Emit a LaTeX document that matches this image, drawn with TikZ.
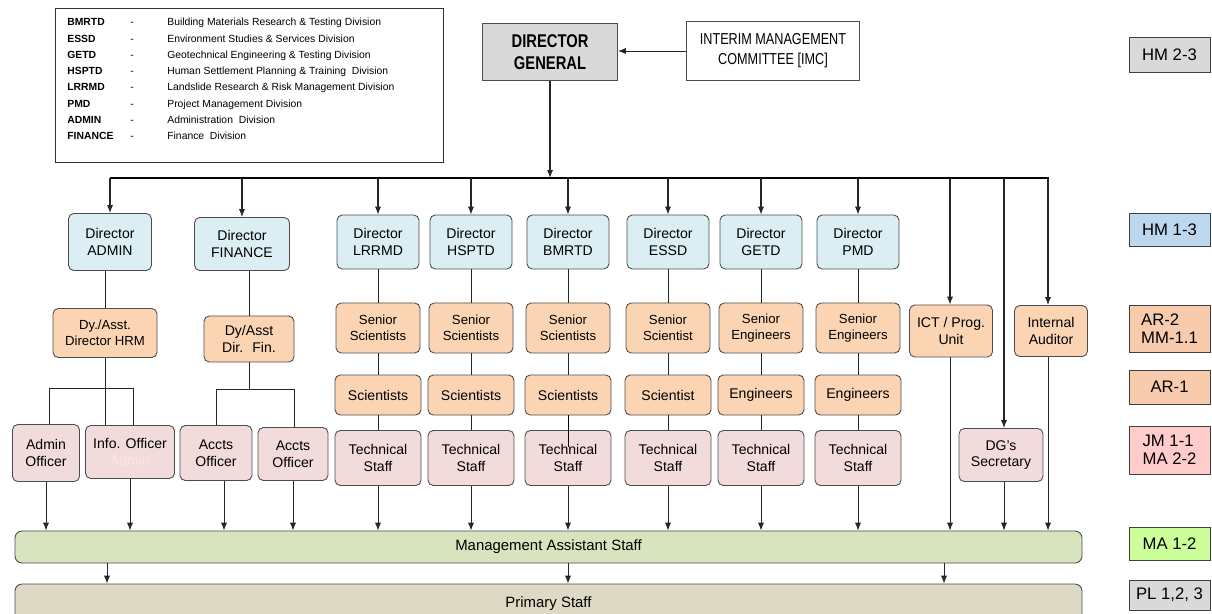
\documentclass[tikz,border=0pt]{standalone}
\usepackage{fontspec}
\setmainfont{Liberation Sans}
\newfontfamily\narrowsf[FakeStretch=0.8]{Liberation Sans}
\usetikzlibrary{arrows.meta}
\definecolor{dirblue}{HTML}{DAEEF3}
\definecolor{peach}{HTML}{FBD4B4}
\definecolor{rosy}{HTML}{F2DCDB}
\definecolor{faintpink}{HTML}{FCE4E4}
\definecolor{magreen}{HTML}{D7E4BD}
\definecolor{primtan}{HTML}{DDD9C4}
\definecolor{dggray}{HTML}{D9D9D9}
\definecolor{hmblue}{HTML}{BDD7EE}
\definecolor{arorange}{HTML}{F8CBAD}
\definecolor{jmpink}{HTML}{FFCCCC}
\definecolor{magrade}{HTML}{CCFF99}
\begin{document}
\begin{tikzpicture}[x=0.02cm,y=-0.02cm,
  wh/.style 2 args={minimum width=#1*0.02cm,minimum height=#2*0.02cm},
  box/.style={draw=black!70,line width=0.5pt,rounded corners=3pt,align=center,inner sep=1pt,font=\fontsize{8}{9.6}\selectfont},
  dirbox/.style={box,fill=dirblue},
  midbox/.style={box,fill=peach},
  lowbox/.style={box,fill=rosy},
  grade/.style={draw=black!75,line width=0.5pt,align=left,inner sep=1pt,minimum width=1.62cm,minimum height=#1*0.02cm,font=\fontsize{9.5}{10.5}\selectfont},
  legtext/.style={anchor=base west,inner sep=0pt,font=\fontsize{5.9}{7}\selectfont},
  link/.style={line width=0.5pt,draw=black!85},
  arr/.style={link,-{Latex[length=4.5pt,width=3.5pt]}}
]
\useasboundingbox (0,0) rectangle (1212,614);
% Legend of the division names
\draw[line width=0.5pt,draw=black!80] (55,8) rectangle (443,162);
\foreach \a/\t [count=\i] in {BMRTD/Building Materials Research \& Testing Division,
  ESSD/Environment Studies \& Services Division,
  GETD/Geotechnical Engineering \& Testing Division,
  HSPTD/Human Settlement Planning \& Training\ \ Division,
  LRRMD/Landslide Research \& Risk Management Division,
  PMD/Project Management Division,
  ADMIN/Administration\ \ Division,
  FINANCE/Finance\ \ Division}
{
  \node[legtext,font=\fontsize{5.9}{7}\selectfont\bfseries] (abbr\i) at (67,9.5+16.3*\i) {\a};
  \node[legtext] (dash\i) at (130,9.5+16.3*\i) {-};
  \node[legtext] (desc\i) at (167,9.5+16.3*\i) {\t};
}
% Top of the chart
\node[box,rounded corners=0pt,fill=dggray,wh={135}{57},font=\narrowsf\bfseries\fontsize{10.5}{12.5}\selectfont] (dg) at (550,52) {DIRECTOR\\GENERAL};
\node[box,rounded corners=0pt,fill=white,wh={173}{59},font=\narrowsf\fontsize{9}{11.3}\selectfont] (imc) at (773,51) {INTERIM MANAGEMENT\\COMMITTEE [IMC]};
\draw[arr] (imc.west) -- (imc.west -| dg.east);
\coordinate (busL) at (110,178);
\coordinate (busR) at (1049,178);
\draw[arr,line width=0.7pt] (dg.south) -- (dg.south |- busL);
\draw[link,line width=0.8pt,draw=black] (busL) -- (busR);
% Staff bars at the bottom
\node[box,rounded corners=4pt,fill=magreen,wh={1067}{32},font=\fontsize{8.5}{10}\selectfont] (ma) at (548.5,547) {Management Assistant Staff};
\node[box,rounded corners=4pt,fill=primtan,wh={1067}{40},font=\fontsize{8.5}{10}\selectfont] (ps) at (548.5,604) {Primary Staff};
\foreach \x in {107,568,944}
{
  \coordinate (m\x) at (\x,0);
  \draw[arr] (ma.south -| m\x) -- (ps.north -| m\x);
}
% Admin and finance branches
\node[dirbox,wh={83}{57}] (dadmin) at (110,242) {Director\\ADMIN};
\node[dirbox,wh={95}{53}] (dfin) at (242,244) {Director\\FINANCE};
\node[midbox,wh={104}{49},font=\fontsize{7.5}{9}\selectfont] (hrm) at (105,333) {Dy./Asst.\\Director HRM};
\node[midbox,wh={90}{46}] (dyfin) at (249,339) {Dy/Asst\\Dir.~ Fin.};
\node[lowbox,wh={67}{57}] (admo) at (46,453) {Admin\\Officer};
\node[lowbox,wh={89}{53}] (info) at (130,452) {Info. Officer\\\textcolor{faintpink}{Admin}};
\node[lowbox,wh={72}{55}] (acc1) at (216,453) {Accts\\Officer};
\node[lowbox,wh={70}{53}] (acc2) at (293,454) {Accts\\Officer};
\foreach \x/\n in {110/dadmin,242/dfin}
{
  \coordinate (b\n) at (\x,178);
  \draw[arr,line width=0.6pt] (b\n) -- (b\n |- \n.north);
}
\draw[link] (hrm.north) -- (hrm.north |- dadmin.south);
\draw[link] (dyfin.north) -- (dyfin.north |- dfin.south);
\coordinate (hl) at (49,388);
\coordinate (hr) at (133,388);
\draw[link] (hrm.south) -- (hrm.south |- info.north);
\draw[link] (admo.north -| hl) -- (hl) -- (hr) -- (hr |- info.north);
\coordinate (fl) at (216,389);
\coordinate (fr) at (294,389);
\draw[link] (dyfin.south) -- (dyfin.south |- fl);
\draw[link] (acc1.north -| fl) -- (fl) -- (fr) -- (fr |- acc2.north);
\coordinate (a1x) at (224,0);
\draw[arr] (admo) -- (admo |- ma.north);
\draw[arr] (info) -- (info |- ma.north);
\draw[arr] (acc1.south -| a1x) -- (ma.north -| a1x);
\draw[arr] (acc2) -- (acc2 |- ma.north);
% Research divisions, one column each
\foreach \n/\x/\d/\s/\j in {lrrmd/378/LRRMD/Scientists/Scientists,
  hsptd/471/HSPTD/Scientists/Scientists,
  bmrtd/568/BMRTD/Scientists/Scientists,
  essd/668/ESSD/Scientist/Scientist,
  getd/761/GETD/Engineers/Engineers,
  pmd/858/PMD/Engineers/Engineers}
{
  \node[dirbox,wh={82}{54}] (d\n) at (\x,242) {Director\\\d};
  \node[midbox,wh={84}{50},font=\fontsize{7.5}{9}\selectfont] (s\n) at (\x,328) {Senior\\\s};
  \node[midbox,wh={86}{40}] (j\n) at (\x,395) {\j};
  \node[lowbox,wh={86}{55}] (t\n) at (\x,458) {Technical\\Staff};
  \coordinate (b\n) at (\x,178);
  \draw[arr,line width=0.6pt] (b\n) -- (d\n);
  \draw[link] (d\n) -- (s\n) (s\n) -- (j\n) (j\n) -- (t\n);
  \draw[arr] (t\n) -- (t\n |- ma.north);
}
\draw[link,draw=black] (jbmrtd.south) -- ([yshift=-0.33cm]tbmrtd.north);
% Units reporting straight to the DG
\node[midbox,wh={83}{52}] (ict) at (951,331) {ICT / Prog.\\Unit};
\node[midbox,wh={73}{51}] (audit) at (1051,331) {Internal\\Auditor};
\node[lowbox,wh={84}{53}] (dgsec) at (1001,455) {DG's\\Secretary};
\foreach \x/\n in {950/ict,1004/dgsec,1048/audit}
{
  \coordinate (b\n) at (\x,178);
  \draw[arr,line width=0.6pt] (b\n) -- (b\n |- \n.north);
  \draw[arr] (\n.south -| b\n) -- (ma.north -| b\n);
}
% Grades on the right
\node[grade=35,fill=dggray] (g1) at (1169.5,54.5) {HM 2-3};
\node[grade=33,fill=hmblue] (g2) at (1169.5,229.5) {HM 1-3};
\node[grade=47,fill=arorange] (g3) at (1169.5,328.5) {AR-2\\MM-1.1};
\node[grade=34,fill=arorange] (g4) at (1169.5,387) {AR-1};
\node[grade=48,fill=jmpink] (g5) at (1169.5,450) {JM 1-1\\MA 2-2};
\node[grade=33,fill=magrade] (g6) at (1169.5,543.5) {MA 1-2};
\node[grade=30,fill=dggray] (g7) at (1169.5,595) {PL 1,2, 3};
\end{tikzpicture}
\end{document}
